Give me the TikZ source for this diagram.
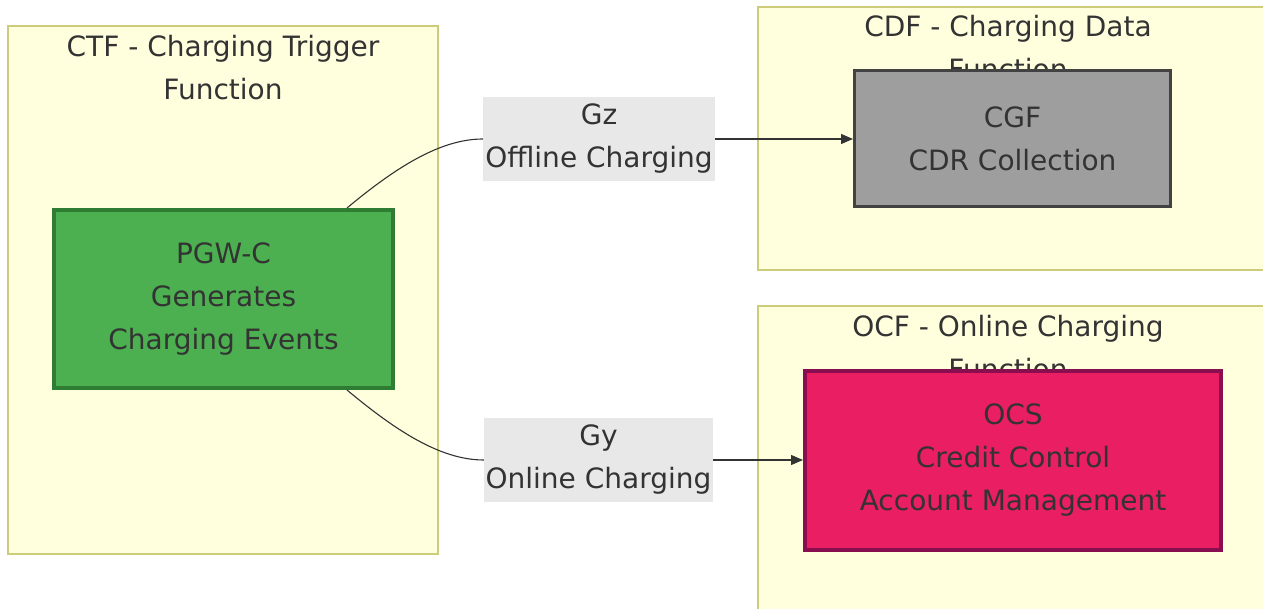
\documentclass[tikz,border=0pt]{standalone}
\usepackage{fontspec}
\setmainfont{DejaVu Sans}
\usepackage{tikz}
\usetikzlibrary{arrows.meta,calc}

\definecolor{clusterfill}{HTML}{FFFFDE}
\definecolor{clusterline}{HTML}{CCCC7A}
\definecolor{textgrey}{HTML}{333333}
\definecolor{labelbg}{HTML}{E8E8E8}
\definecolor{pgwfill}{HTML}{4CAF50}
\definecolor{pgwline}{HTML}{2E7D32}
\definecolor{cgffill}{HTML}{9E9E9E}
\definecolor{cgfline}{HTML}{424242}
\definecolor{ocsfill}{HTML}{E91E63}
\definecolor{ocsline}{HTML}{880E4F}

\begin{document}
\begin{tikzpicture}[x=1pt,y=-1pt]
    \tikzstyle{every node}=[font=\fontsize{28}{43}\selectfont, text=textgrey, align=center]
    \tikzstyle{cluster}=[draw=clusterline, fill=clusterfill, line width=2pt]
    \tikzstyle{lbl}=[fill=labelbg, inner sep=0pt, minimum height=84pt]
    \tikzstyle{link}=[draw=textgrey, line width=1.1pt]
    \tikzstyle{tip}=[-{Triangle[length=12pt,width=10pt]}]

    \useasboundingbox (0,0) rectangle (1263,609);
    \clip (0,0) rectangle (1263,609);
    \fill[white] (0,0) rectangle (1263,609);

    % the three charging functions
    \draw[cluster] (8,26) rectangle (438,554);
    \node (ctf) at (223,68) {CTF - Charging Trigger\\Function};

    \draw[cluster] (758,7) rectangle (1275,270);
    \node (cdf) at (1008,48) {CDF - Charging Data\\Function};

    \draw[cluster] (758,306) rectangle (1275,620);
    \node (ocf) at (1008,348) {OCF - Online Charging\\Function};

    % network elements
    \node[draw=pgwline, fill=pgwfill, line width=4pt, minimum width=339pt,
    minimum height=178pt] (pgw) at (223.5,299) {PGW-C\\Generates\\Charging Events};

    \node[draw=cgfline, fill=cgffill, line width=3pt, minimum width=316pt,
    minimum height=136pt] (cgf) at (1012.5,139) {CGF\\CDR Collection};

    \node[draw=ocsline, fill=ocsfill, line width=4pt, minimum width=416pt,
    minimum height=179pt] (ocs) at (1013,460) {OCS\\Credit Control\\Account Management};

    % reference points
    \node[lbl, minimum width=232pt] (gz) at (599,139) {Gz\\Offline Charging};
    \node[lbl, minimum width=229pt] (gy) at (598.5,460) {Gy\\Online Charging};

    \draw[link] ($(pgw.north east)+(-48,0)$) .. controls (395,168) and (440,139) .. (gz.west);
    \draw[link,tip] (gz.east) -- (cgf.west);

    \draw[link] ($(pgw.south east)+(-48,0)$) .. controls (395,430) and (440,460) .. (gy.west);
    \draw[link,tip] (gy.east) -- (ocs.west);

\end{tikzpicture}
\end{document}
